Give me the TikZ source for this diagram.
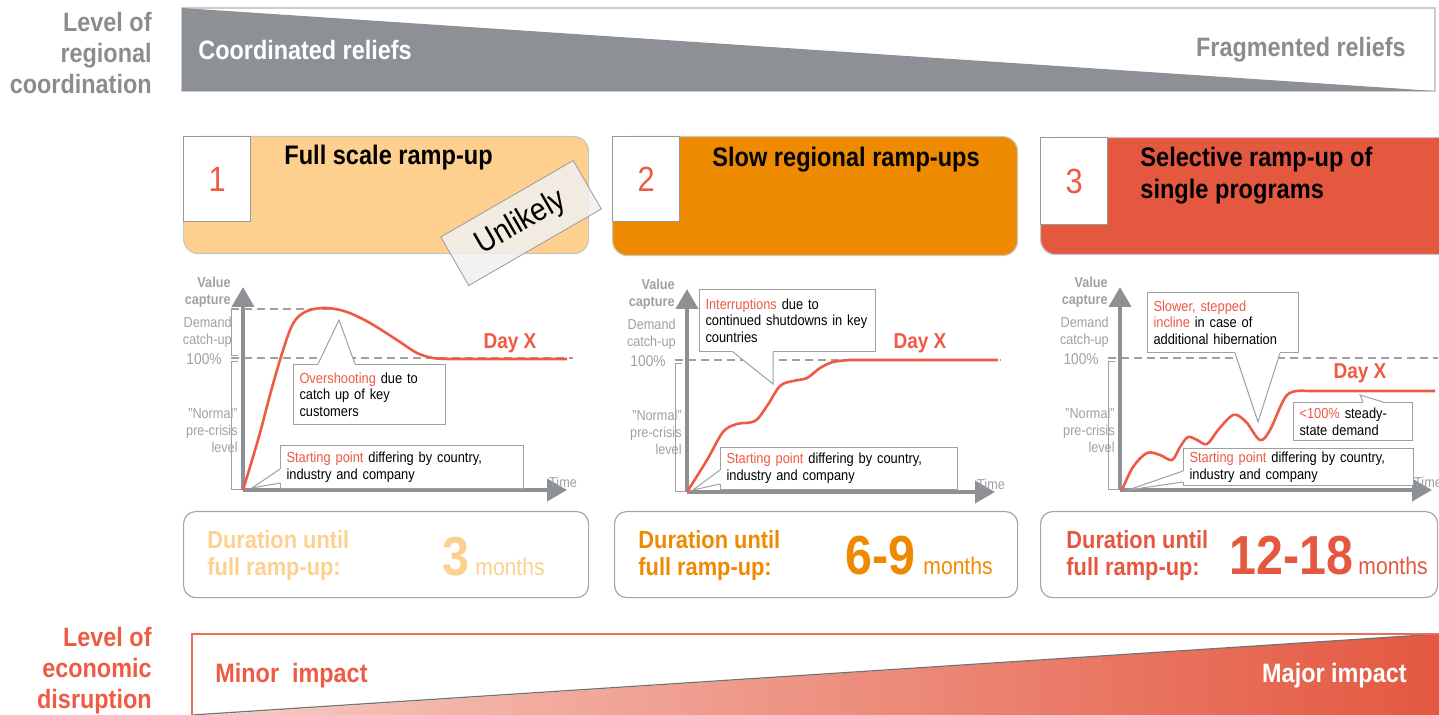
\documentclass[tikz,border=0pt]{standalone}
\usepackage{fontspec}
\setmainfont{Liberation Sans}[FakeStretch=0.88]
\usetikzlibrary{arrows.meta,positioning,calc}
\definecolor{barGray}{RGB}{141,145,150}
\definecolor{lblGray}{RGB}{138,140,143}
\definecolor{axGray}{RGB}{160,160,160}
\definecolor{rampPeach}{RGB}{253,208,143}
\definecolor{rampOrange}{RGB}{238,138,0}
\definecolor{rampRed}{RGB}{228,88,64}
\definecolor{dayRed}{RGB}{238,90,67}
\definecolor{rampPink}{RGB}{247,204,195}
\newcommand{\redword}[1]{\textcolor{dayRed}{#1}}
\newcommand{\fsz}[2]{\fontsize{#1}{#2}\selectfont}

\begin{document}
\begin{tikzpicture}[x=0.5pt, y=-0.5pt,
  lvl/.style={font=\fsz{13.3}{15.5}\bfseries, align=right, anchor=east, inner sep=0pt},
  band/.style={font=\fsz{13.3}{15.5}\bfseries, inner sep=0pt},
  hdr/.style={draw=black!22, line width=0.6pt, rounded corners=7.5pt, anchor=north west, minimum width=202.5pt, minimum height=58.5pt},
  numbox/.style={draw=black!40, line width=0.6pt, fill=white, anchor=north west, minimum width=33.5pt, minimum height=42.5pt, font=\fsz{17.5}{20}, text=dayRed},
  ttl/.style={font=\fsz{13.4}{16}\bfseries, align=left, anchor=west, inner sep=0pt},
  stamp/.style={draw=black!40, fill=black!6, fill opacity=0.85, text opacity=1, minimum width=76.5pt, minimum height=28pt, font=\fsz{16}{18}},
  arrowax/.style={draw=barGray, line width=2pt, -{Triangle[length=10pt,width=11pt]}},
  brk/.style={draw=axGray, line width=0.5pt},
  lim/.style={draw=axGray, line width=0.6pt, dash pattern=on 4pt off 2.5pt},
  lab/.style={font=\fsz{7.2}{8.5}, text=axGray, align=right, anchor=east, inner sep=0pt},
  ramp/.style={draw=dayRed, line width=1.3pt},
  dayx/.style={font=\fsz{10.8}{12}\bfseries, text=dayRed, inner sep=0pt},
  callout/.style={draw=axGray, line width=0.5pt, fill=white, font=\fsz{7.3}{8.3}, align=left, anchor=north west, inner xsep=3pt, inner ysep=0pt},
  ptr/.style={draw=axGray, line width=0.5pt, fill=white},
  durbox/.style={draw=black!35, line width=0.6pt, rounded corners=6pt, anchor=north west, minimum height=43pt},
  durtxt/.style={font=\fsz{12.4}{13.5}\bfseries, align=left, anchor=west, inner sep=0pt},
  bignum/.style={font=\fsz{27.5}{30}\bfseries, anchor=base west, inner sep=0pt},
  months/.style={font=\fsz{12}{14}, anchor=base west, inner sep=0pt}]
\useasboundingbox (0,0) rectangle (1439,715);
\clip (0,0) rectangle (1439,715);

% regional coordination band
\node[lvl, text=lblGray] (regional) at (152,53) {Level of\\regional\\coordination};
\draw[draw=black!20, line width=0.8pt, fill=white] (182,8) rectangle (1435,91);
\fill[barGray] (182,8) -- (1435,91) -- (182,91) -- cycle;
\node[band, text=white, anchor=west] (coord) at (198,50) {Coordinated reliefs};
\node[band, text=lblGray, anchor=east] (frag) at (1406,50) {Fragmented reliefs};

% scenario headers
\node[hdr, fill=rampPeach] (head1) at (183,136) {};
\node[numbox] (num1) at (183,136) {1};
\node[ttl] (title1) at (284,158) {Full scale ramp-up};
\node[hdr, fill=rampOrange, minimum height=59.5pt] (head2) at (612,136) {};
\node[numbox] (num2) at (612,136) {2};
\node[ttl] (title2) at (712,160) {Slow regional ramp-ups};
\node[hdr, fill=rampRed, minimum width=210pt] (head3) at (1040,137) {};
\node[numbox, minimum height=43.5pt] (num3) at (1040,137) {3};
\node[ttl] (title3) at (1140,176) {Selective ramp-up of\\single programs};
\node[stamp, rotate=30] (unlikely) at (521,223) {Unlikely};

% axes, brackets and axis labels
\foreach \ox/\oy/\xl/\p in {243/490/324/1, 687/492/308/2, 1120/490/312/3} {
  \coordinate (o\p) at (\ox,\oy);
  \draw[brk] ({\ox-5},{\oy-128}) -- ({\ox-12},{\oy-128}) -- ({\ox-12},\oy) -- (o\p);
  \draw[lim] ({\ox-12},{\oy-132}) -- ({\ox+\xl+6},{\oy-132});
  \draw[arrowax] (o\p) -- ({\ox},{\oy-203});
  \draw[arrowax] (o\p) -- ({\ox+\xl},{\oy});
  \node[lab, font=\fsz{7.2}{8.5}\bfseries] (val\p) at ({\ox-12},{\oy-198}) {Value\\capture};
  \node[lab] (dem\p) at ({\ox-11},{\oy-158}) {Demand\\catch-up};
  \node[lab, font=\fsz{7.8}{9}] (full\p) at ({\ox-21},{\oy-131}) {100\%};
  \node[lab] (norm\p) at ({\ox-5},{\oy-60}) {"Normal"\\pre-crisis\\level};
  \node[lab, anchor=center] (time\p) at ({\xl+\ox-4},{\oy-8}) {Time};
}

% scenario 1: overshooting
\draw[brk] (238,309) -- (231,309) -- (231,356) -- (238,356);
\draw[lim] (231,309) -- (330,309);
\draw[ramp] plot[smooth, tension=0.55] coordinates {(243,490) (258,440) (270,395) (280,360) (290,330) (298,317) (310,310) (327,308) (347,312) (370,323) (397,340) (417,353) (433,358) (450,359)} -- (567,359);
\node[dayx] (dayx1) at (510,343) {Day X};
\node[callout, text width=70pt, minimum height=30pt] (over1) at (293,364) {\redword{Overshooting} due to\\catch up of key\\customers};
\coordinate (peak1) at (339,320);
\draw[white, line width=1.2pt] ($(over1.north west)+(25,0)$) -- ($(over1.north west)+(62,0)$);
\draw[ptr] ($(over1.north west)+(25,0)$) -- (peak1) -- ($(over1.north west)+(62,0)$);
\node[callout, text width=115.5pt, minimum height=21.5pt] (start1) at (280,445) {\redword{Starting point} differing by country,\\industry and company};
\coordinate (base1) at (252,488);
\draw[white, line width=1.2pt] ($(start1.south west)+(0,-20)$) -- ($(start1.south west)+(0,-6)$);
\draw[ptr] ($(start1.south west)+(0,-20)$) -- (base1) -- ($(start1.south west)+(0,-6)$);

% scenario 2: interrupted ramp-up
\draw[ramp] plot[smooth, tension=0.55] coordinates {(687,492) (707,460) (723,432) (737,424) (755,421) (767,406) (780,386) (793,381) (807,378) (820,368) (833,362) (850,360)} -- (998,360);
\node[dayx] (dayx2) at (920,343) {Day X};
\node[callout, text width=82pt, minimum height=31pt] (intr2) at (699,289) {\redword{Interruptions} due to\\continued shutdowns in key\\countries};
\coordinate (dip2) at (773,384);
\draw[white, line width=1.2pt] ($(intr2.south west)+(34,0)$) -- ($(intr2.south west)+(74,0)$);
\draw[ptr] ($(intr2.south west)+(34,0)$) -- (dip2) -- ($(intr2.south west)+(74,0)$);
\node[callout, text width=112.5pt, minimum height=21pt] (start2) at (720,447) {\redword{Starting point} differing by country,\\industry and company};
\coordinate (base2) at (693,490);
\draw[white, line width=1.2pt] ($(start2.south west)+(0,-20)$) -- ($(start2.south west)+(0,-6)$);
\draw[ptr] ($(start2.south west)+(0,-20)$) -- (base2) -- ($(start2.south west)+(0,-6)$);

% scenario 3: stepped incline
\draw[ramp] plot[smooth, tension=0.55] coordinates {(1122,490) (1133,467) (1147,453) (1160,455) (1172,460) (1180,447) (1188,437) (1197,440) (1207,444) (1218,430) (1230,417) (1237,415) (1247,423) (1260,440) (1270,430) (1287,395) (1307,391)} -- (1435,391);
\node[dayx] (dayx3) at (1360,373) {Day X};
\node[callout, text width=69.5pt, minimum height=30pt] (slow3) at (1147,292) {\redword{Slower, stepped}\\\redword{incline} in case of\\additional hibernation};
\coordinate (dip3) at (1258,422);
\draw[white, line width=1.2pt] ($(slow3.south west)+(88,0)$) -- ($(slow3.south west)+(133,0)$);
\draw[ptr] ($(slow3.south west)+(88,0)$) -- (dip3) -- ($(slow3.south west)+(133,0)$);
\node[callout, text width=53.5pt, minimum height=19pt] (below3) at (1293,402) {\redword{<100\%} steady-\\state demand};
\coordinate (flat3) at (1360,395);
\draw[white, line width=1.2pt] ($(below3.north west)+(70,0)$) -- ($(below3.north west)+(90,0)$);
\draw[ptr] ($(below3.north west)+(70,0)$) -- (flat3) -- ($(below3.north west)+(90,0)$);
\node[callout, text width=109pt, minimum height=18.5pt] (start3) at (1183,448) {\redword{Starting point} differing by country,\\industry and company};
\coordinate (base3) at (1128,490);
\draw[white, line width=1.2pt] ($(start3.south west)+(0,-15)$) -- ($(start3.south west)+(0,-4)$);
\draw[ptr] ($(start3.south west)+(0,-15)$) -- (base3) -- ($(start3.south west)+(0,-4)$);

% duration until full ramp-up
\node[durbox, minimum width=202.5pt] (dur1) at (183,511) {};
\node[durtxt, text=rampPeach] (durtxt1) at (207,556) {Duration until\\full ramp-up:};
\node[bignum, text=rampPeach] (big1) at (442,575) {3};
\node[months, text=rampPeach] (mon1) at (475,575) {months};
\node[durbox, minimum width=201.5pt] (dur2) at (614,511) {};
\node[durtxt, text=rampOrange] (durtxt2) at (638,556) {Duration until\\full ramp-up:};
\node[bignum, text=rampOrange] (big2) at (845,574) {6-9};
\node[months, text=rampOrange] (mon2) at (923,574) {months};
\node[durbox, minimum width=198.5pt] (dur3) at (1040,511) {};
\node[durtxt, text=rampRed] (durtxt3) at (1066,556) {Duration until\\full ramp-up:};
\node[bignum, text=rampRed] (big3) at (1229,574) {12-18};
\node[months, text=rampRed] (mon3) at (1358,574) {months};

% economic disruption band
\node[lvl, text=dayRed] (econ) at (152,671) {Level of\\economic\\disruption};
\fill[white] (192,634) rectangle (1445,720);
\shade[left color=rampPink, right color=rampRed] (192,716) -- (1440,634) -- (1440,716) -- cycle;
\draw[black!55, line width=0.6pt] (192,715) -- (1439,634);
\draw[draw=rampRed!85, line width=0.8pt] (192,720) -- (192,634) -- (1445,634);
\node[band, text=dayRed, anchor=west] (minor) at (215,676) {Minor~ impact};
\node[band, text=white, anchor=east] (major) at (1407,676) {Major impact};
\end{tikzpicture}
\end{document}
